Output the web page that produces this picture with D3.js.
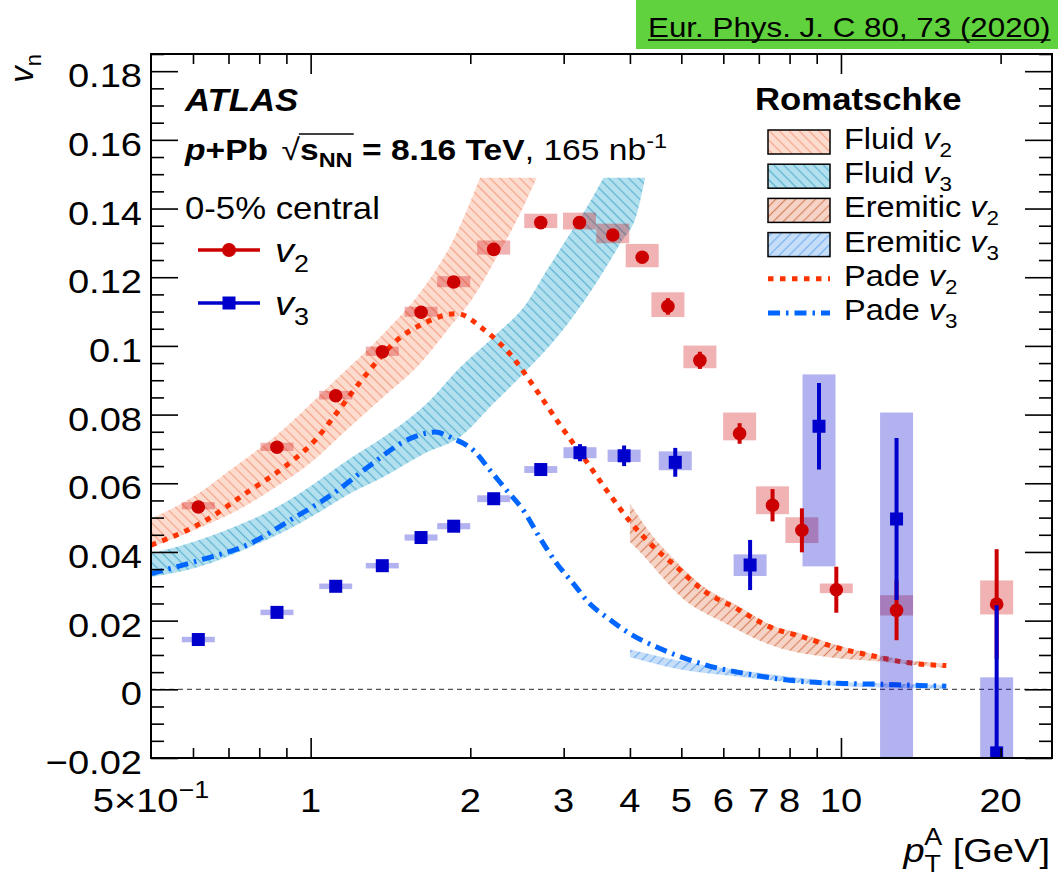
<!DOCTYPE html>
<html>
<head>
<meta charset="utf-8">
<script src="https://cdn.jsdelivr.net/npm/d3@7"></script>
<style>
  html, body { margin: 0; padding: 0; background: #fff; }
  svg { display: block; font-family: "Liberation Sans", Arial, Helvetica, sans-serif; }
</style>
</head>
<body>
<div id="chart"></div>
<script>
// ATLAS p+Pb 8.16 TeV, 0-5% central: v2 / v3 vs pT with Romatschke calculations

const v2Pt = [0.614, 0.864, 1.115, 1.365, 1.615, 1.861, 2.214, 2.716, 3.213, 3.713, 4.219, 4.717, 5.42, 6.44, 7.43, 8.44, 9.80, 12.73, 19.66];
const v2Val = [0.0531, 0.0705, 0.0855, 0.0983, 0.1098, 0.1186, 0.1281, 0.1359, 0.1359, 0.1323, 0.1258, 0.1115, 0.0958, 0.0745, 0.0536, 0.0463, 0.0290, 0.0230, 0.0248];
const v2Stat = [0.0004, 0.0004, 0.0005, 0.0005, 0.0005, 0.0005, 0.0006, 0.0007, 0.0008, 0.0009, 0.001, 0.0024, 0.0025, 0.003, 0.0047, 0.0064, 0.0067, 0.0087, 0.016];
const v2SysHi = [0.0014, 0.0013, 0.0014, 0.0015, 0.0016, 0.0017, 0.0026, 0.0026, 0.0029, 0.0033, 0.0039, 0.0041, 0.0043, 0.0061, 0.0055, 0.0038, 0.0018, 0.0044, 0.0069];
const v2SysLo = [0.0007, 0.0011, 0.0011, 0.0012, 0.0013, 0.0015, 0.0015, 0.0016, 0.002, 0.0024, 0.0029, 0.0031, 0.0023, 0.002, 0.0026, 0.0037, 0.001, 0.0015, 0.003];

const v3Pt = [0.614, 0.864, 1.115, 1.365, 1.615, 1.861, 2.214, 2.716, 3.22, 3.90, 4.87, 6.74, 9.09, 12.73, 19.66];
const v3Val = [0.0145, 0.0224, 0.0300, 0.0360, 0.0442, 0.0475, 0.0555, 0.0640, 0.0689, 0.0680, 0.0661, 0.0362, 0.0766, 0.0496, -0.0185];
const v3Stat = [0.0003, 0.0003, 0.0004, 0.0004, 0.0005, 0.0005, 0.0006, 0.0008, 0.0025, 0.003, 0.0042, 0.0073, 0.0126, 0.0236, 0.043];
const v3SysHi = [0.0008, 0.0008, 0.0008, 0.0008, 0.0009, 0.0009, 0.001, 0.001, 0.0016, 0.0018, 0.0032, 0.0031, 0.0151, 0.031, 0.022];
const v3SysLo = [0.0008, 0.0008, 0.0008, 0.0008, 0.0009, 0.0009, 0.001, 0.001, 0.0016, 0.0018, 0.0023, 0.0032, 0.0408, 0.08, 0.03];

// theory bands: upper and lower edges as [pT, v]
const fluidV2Upper = [[0.5, 0.0497], [0.614, 0.0570], [0.704, 0.0638], [0.864, 0.0741], [1.116, 0.0902], [1.363, 0.1031], [1.615, 0.1159], [1.864, 0.1313], [2.086, 0.149]];
const fluidV2Lower = [[0.5, 0.0414], [0.614, 0.0468], [0.768, 0.0541], [0.864, 0.0591], [1.0, 0.066], [1.186, 0.0764], [1.371, 0.0851], [1.608, 0.0948], [1.83, 0.1055], [2.027, 0.1142], [2.244, 0.1259], [2.446, 0.1365], [2.67, 0.149]];
const fluidV3Upper = [[0.5, 0.0395], [0.614, 0.0434], [0.768, 0.0492], [0.888, 0.0541], [1.026, 0.0604], [1.186, 0.0672], [1.371, 0.0734], [1.655, 0.0832], [1.913, 0.0937], [2.211, 0.1026], [2.556, 0.1125], [2.788, 0.1220], [3.085, 0.1327], [3.317, 0.1404], [3.566, 0.149]];
const fluidV3Lower = [[0.5, 0.0327], [0.614, 0.0356], [0.768, 0.0414], [0.888, 0.0458], [1.026, 0.0511], [1.186, 0.0570], [1.371, 0.0618], [1.655, 0.0690], [1.913, 0.0735], [2.211, 0.0832], [2.556, 0.0929], [2.954, 0.1036], [3.414, 0.1171], [3.834, 0.1298], [4.122, 0.1385], [4.274, 0.149]];
const eremV2Upper = [[4.0, 0.0541], [4.37, 0.0455], [4.9, 0.0371], [5.5, 0.0300], [6.36, 0.0245], [7.36, 0.0188], [8.5, 0.0160], [9.84, 0.0128], [11.37, 0.0104], [13.14, 0.0086], [15.6, 0.0075]];
const eremV2Lower = [[4.0, 0.0429], [4.24, 0.0390], [4.63, 0.0322], [4.97, 0.0272], [6.0, 0.0195], [7.56, 0.0123], [9.41, 0.0094], [11.7, 0.0082], [15.6, 0.0063]];
const eremV3Upper = [[4.0, 0.0116], [4.9, 0.0085], [6.5, 0.0055], [8.7, 0.0031], [10.1, 0.0021], [12.0, 0.0017], [15.6, 0.0013]];
const eremV3Lower = [[4.0, 0.0094], [4.9, 0.0060], [6.5, 0.0036], [8.7, 0.0016], [10.1, 0.0009], [12.0, 0.0005], [15.6, 0.0002]];

const padeV2 = [[0.5, 0.0420], [0.618, 0.0482], [0.768, 0.0579], [0.888, 0.0645], [1.026, 0.0730], [1.12, 0.0805], [1.276, 0.0919], [1.453, 0.1016], [1.631, 0.1065], [1.886, 0.1094], [2.12, 0.1048], [2.38, 0.0975], [2.668, 0.0870], [2.953, 0.0770], [3.317, 0.0662], [3.672, 0.0565], [4.06, 0.0477], [4.37, 0.0424], [4.9, 0.0356], [5.5, 0.0288], [6.36, 0.0235], [7.36, 0.0181], [8.5, 0.0152], [9.84, 0.0121], [11.37, 0.0099], [13.14, 0.0079], [15.8, 0.0069]];
const padeV3 = [[0.5, 0.0337], [0.618, 0.0376], [0.768, 0.0424], [0.914, 0.0492], [1.103, 0.0570], [1.294, 0.0652], [1.539, 0.0730], [1.716, 0.0749], [1.858, 0.0730], [2.027, 0.0696], [2.179, 0.0638], [2.344, 0.0579], [2.519, 0.0521], [2.708, 0.0440], [2.912, 0.0366], [3.129, 0.0308], [3.36, 0.0249], [3.615, 0.0210], [4.0, 0.0162], [4.49, 0.0123], [4.9, 0.0099], [5.67, 0.0067], [6.54, 0.0047], [7.56, 0.0031], [8.73, 0.0021], [10.1, 0.0017], [11.7, 0.0015], [13.5, 0.0012], [15.8, 0.0009]];

const yMajor = [-0.02, 0, 0.02, 0.04, 0.06, 0.08, 0.1, 0.12, 0.14, 0.16, 0.18];
const yTickLabels = ["\u22120.02", "0", "0.02", "0.04", "0.06", "0.08", "0.1", "0.12", "0.14", "0.16", "0.18"];
const xMajor = [1, 10];
const xMinor = [0.6, 0.7, 0.8, 0.9, 2, 3, 4, 5, 6, 7, 8, 9, 20];
const xLabelVals = [0.5, 1, 2, 3, 4, 5, 6, 7, 8, 10, 20];
const xLabelText = ["5\u00d710", "1", "2", "3", "4", "5", "6", "7", "8", "10", "20"];

const RED = "#cc0000";
const BLUE = "#0000cc";
const STRETCH = 1.12;

const width = 1058, height = 885;
const plot = {left: 151, right: 1052, top: 54, bottom: 758};

const x = d3.scaleLog().domain([0.5, 25]).range([plot.left, plot.right]);
const y = d3.scaleLinear().domain([-0.02, 0.185]).range([plot.bottom, plot.top]);

const svg = d3.select("#chart").append("svg")
  .attr("width", width)
  .attr("height", height)
  .attr("viewBox", [0, 0, width, height]);

const defs = svg.append("defs");
defs.append("clipPath").attr("id", "plotClip")
  .append("rect")
  .attr("x", plot.left).attr("y", plot.top)
  .attr("width", plot.right - plot.left).attr("height", plot.bottom - plot.top);

function hatch(id, fill, stroke, angle) {
  const p = defs.append("pattern")
    .attr("id", id)
    .attr("patternUnits", "userSpaceOnUse")
    .attr("width", 7).attr("height", 7)
    .attr("patternTransform", `rotate(${angle})`);
  p.append("rect").attr("width", 7).attr("height", 7).attr("fill", fill);
  p.append("line").attr("x1", 3.5).attr("y1", 0).attr("x2", 3.5).attr("y2", 7)
    .attr("stroke", stroke).attr("stroke-width", 1.2);
}
hatch("hFluidV2", "#fddcd0", "#f4a387", -45);
hatch("hFluidV3", "#b3e0ee", "#5cb3d2", -45);
hatch("hEremV2", "#f5d4c7", "#d9825f", 45);
hatch("hEremV3", "#c6def8", "#74b0f2", 45);

// text drawn slightly wide, like the ROOT output
function textAt(parent, tx, ty, size, anchor = "start") {
  return parent.append("g")
    .attr("transform", `translate(${tx},${ty}) scale(${STRETCH},1)`)
    .append("text")
    .attr("font-size", size)
    .attr("text-anchor", anchor)
    .attr("fill", "#000");
}

// ---------- data layer ----------
const data = svg.append("g").attr("clip-path", "url(#plotClip)");

const edge = d3.line().x((d) => x(d[0])).y((d) => y(d[1])).curve(d3.curveMonotoneX);
function bandPath(upper, lower) {
  return edge(upper) + "L" + edge(lower.slice().reverse()).slice(1) + "Z";
}

data.append("path").attr("d", bandPath(fluidV2Upper, fluidV2Lower)).attr("fill", "url(#hFluidV2)");
data.append("path").attr("d", bandPath(fluidV3Upper, fluidV3Lower)).attr("fill", "url(#hFluidV3)");
data.append("path").attr("d", bandPath(eremV2Upper, eremV2Lower)).attr("fill", "url(#hEremV2)");
data.append("path").attr("d", bandPath(eremV3Upper, eremV3Lower)).attr("fill", "url(#hEremV3)");

data.append("line")
  .attr("x1", plot.left).attr("x2", plot.right)
  .attr("y1", y(0)).attr("y2", y(0))
  .attr("stroke", "#555").attr("stroke-width", 1.2).attr("stroke-dasharray", "5,4");

data.append("path").datum(padeV2)
  .attr("d", edge)
  .attr("fill", "none").attr("stroke", "#ff3300").attr("stroke-width", 5)
  .attr("stroke-dasharray", "5.5,6.5");
data.append("path").datum(padeV3)
  .attr("d", edge)
  .attr("fill", "none").attr("stroke", "#0066ff").attr("stroke-width", 5)
  .attr("stroke-dasharray", "12,6,2.5,6");

const BOX_HALF = 16.5;
function points(pt, val, stat, sysHi, sysLo) {
  return pt.map((p, i) => ({p, v: val[i], stat: stat[i], hi: sysHi[i], lo: sysLo[i]}));
}
const v2Data = points(v2Pt, v2Val, v2Stat, v2SysHi, v2SysLo);
const v3Data = points(v3Pt, v3Val, v3Stat, v3SysHi, v3SysLo);

function sysBoxes(series, color) {
  data.append("g").selectAll("rect").data(series).join("rect")
    .attr("x", (d) => x(d.p) - BOX_HALF)
    .attr("width", BOX_HALF * 2)
    .attr("y", (d) => y(d.v + d.hi))
    .attr("height", (d) => y(d.v - d.lo) - y(d.v + d.hi))
    .attr("fill", color).attr("fill-opacity", 0.3);
}
sysBoxes(v2Data, RED);
sysBoxes(v3Data, BLUE);

function statBars(series, color) {
  data.append("g").selectAll("line").data(series).join("line")
    .attr("x1", (d) => x(d.p)).attr("x2", (d) => x(d.p))
    .attr("y1", (d) => y(d.v - d.stat)).attr("y2", (d) => y(d.v + d.stat))
    .attr("stroke", color).attr("stroke-width", 4);
}
statBars(v2Data, RED);
data.append("g").selectAll("circle").data(v2Data).join("circle")
  .attr("cx", (d) => x(d.p)).attr("cy", (d) => y(d.v)).attr("r", 6.8).attr("fill", RED);
statBars(v3Data, BLUE);
data.append("g").selectAll("rect").data(v3Data).join("rect")
  .attr("x", (d) => x(d.p) - 6.5).attr("y", (d) => y(d.v) - 6.5)
  .attr("width", 13).attr("height", 13).attr("fill", BLUE);

// ---------- axes ----------
function clean(sel) {
  sel.select(".domain").remove();
  sel.selectAll(".tick text").remove();
  sel.selectAll(".tick line").attr("stroke", "#000").attr("stroke-width", 1.6);
}
const yMinor = d3.range(-0.02, 0.1851, 0.005)
  .filter((v) => Math.abs(Math.round(v / 0.02) * 0.02 - v) > 1e-9);

svg.append("g").attr("transform", `translate(${plot.left},0)`)
  .call(d3.axisLeft(y).tickValues(yMajor).tickSize(-27).tickFormat("")).call(clean);
svg.append("g").attr("transform", `translate(${plot.left},0)`)
  .call(d3.axisLeft(y).tickValues(yMinor).tickSize(-13).tickFormat("")).call(clean);
svg.append("g").attr("transform", `translate(${plot.right},0)`)
  .call(d3.axisRight(y).tickValues(yMajor).tickSize(-27).tickFormat("")).call(clean);
svg.append("g").attr("transform", `translate(${plot.right},0)`)
  .call(d3.axisRight(y).tickValues(yMinor).tickSize(-13).tickFormat("")).call(clean);

svg.append("g").attr("transform", `translate(0,${plot.bottom})`)
  .call(d3.axisBottom(x).tickValues(xMajor).tickSize(-20).tickFormat("")).call(clean);
svg.append("g").attr("transform", `translate(0,${plot.bottom})`)
  .call(d3.axisBottom(x).tickValues(xMinor).tickSize(-10).tickFormat("")).call(clean);
svg.append("g").attr("transform", `translate(0,${plot.top})`)
  .call(d3.axisTop(x).tickValues(xMajor).tickSize(-20).tickFormat("")).call(clean);
svg.append("g").attr("transform", `translate(0,${plot.top})`)
  .call(d3.axisTop(x).tickValues(xMinor).tickSize(-10).tickFormat("")).call(clean);

svg.append("rect")
  .attr("x", plot.left).attr("y", plot.top)
  .attr("width", plot.right - plot.left).attr("height", plot.bottom - plot.top)
  .attr("fill", "none").attr("stroke", "#000").attr("stroke-width", 2);

yMajor.forEach((v, i) => {
  textAt(svg, plot.left - 9, y(v) + 16, 34, "end").text(yTickLabels[i]);
});
xLabelVals.forEach((v, i) => {
  const t = textAt(svg, x(v), 812, 34, "middle").text(xLabelText[i]);
  if (v === 0.5) t.append("tspan").attr("font-size", 24).attr("dy", -14).text("\u22121");
});

// axis titles
const yTitle = svg.append("g").attr("transform", `translate(33,54) rotate(-90)`)
  .append("text").attr("font-size", 33).attr("text-anchor", "end");
yTitle.append("tspan").attr("font-style", "italic").text("v");
yTitle.append("tspan").attr("font-size", 22).attr("dy", 8).text("n");

const xTitle = textAt(svg, 1050, 862, 34, "end");
xTitle.append("tspan").attr("font-style", "italic").text("p");
xTitle.append("tspan").attr("font-size", 24).attr("dy", 10).text("T");
xTitle.append("tspan").attr("font-size", 24).attr("dx", -15).attr("dy", -27).text("A");
xTitle.append("tspan").attr("dy", 17).text(" [GeV]");

// ---------- labels, top left ----------
textAt(svg, 185, 111, 31).attr("font-weight", "bold").attr("font-style", "italic").text("ATLAS");

const sys = textAt(svg, 185, 160, 30);
sys.append("tspan").attr("font-weight", "bold").attr("font-style", "italic").text("p");
sys.append("tspan").attr("font-weight", "bold").text("+Pb");
sys.append("tspan").attr("dx", 12).text("\u221a");
sys.append("tspan").attr("font-weight", "bold").text("s");
sys.append("tspan").attr("font-weight", "bold").attr("font-size", 21).attr("dy", 7).text("NN");
sys.append("tspan").attr("font-weight", "bold").attr("dy", -7).text(" = 8.16 TeV");
sys.append("tspan").text(", 165 nb");
sys.append("tspan").attr("font-size", 21).attr("dy", -12).text("-1");
{
  const node = sys.node();
  const root = node.getExtentOfChar(4);
  const lastN = node.getExtentOfChar(7);
  d3.select(node.parentNode).append("line")
    .attr("x1", root.x + root.width - 1).attr("x2", lastN.x + lastN.width + 1)
    .attr("y1", -26).attr("y2", -26)
    .attr("stroke", "#000").attr("stroke-width", 1.6);
}

textAt(svg, 185, 219, 31).text("0-5% central");

const measLegend = [
  {y: 250, color: RED, marker: "circle", sub: "2"},
  {y: 303, color: BLUE, marker: "square", sub: "3"}
];
measLegend.forEach((e) => {
  svg.append("line").attr("x1", 198).attr("x2", 260).attr("y1", e.y).attr("y2", e.y)
    .attr("stroke", e.color).attr("stroke-width", 3.5);
  if (e.marker === "circle") {
    svg.append("circle").attr("cx", 229).attr("cy", e.y).attr("r", 7).attr("fill", e.color);
  } else {
    svg.append("rect").attr("x", 222.5).attr("y", e.y - 6.5).attr("width", 13).attr("height", 13).attr("fill", e.color);
  }
  const t = textAt(svg, 275, e.y + 12, 34);
  t.append("tspan").attr("font-style", "italic").text("v");
  t.append("tspan").attr("font-size", 24).attr("dy", 10).text(e.sub);
});

// ---------- Romatschke legend ----------
textAt(svg, 755, 110, 31).attr("font-weight", "bold").text("Romatschke");
const theoryLegend = [
  {kind: "band", fill: "url(#hFluidV2)", name: "Fluid ", sub: "2"},
  {kind: "band", fill: "url(#hFluidV3)", name: "Fluid ", sub: "3"},
  {kind: "band", fill: "url(#hEremV2)", name: "Eremitic ", sub: "2"},
  {kind: "band", fill: "url(#hEremV3)", name: "Eremitic ", sub: "3"},
  {kind: "line", stroke: "#ff3300", dash: "5.5,6.5", name: "Pade ", sub: "2"},
  {kind: "line", stroke: "#0066ff", dash: "12,6,2.5,6", name: "Pade ", sub: "3"}
];
theoryLegend.forEach((e, i) => {
  const yc = 142 + i * 34.2;
  if (e.kind === "band") {
    svg.append("rect").attr("x", 768).attr("y", yc - 12).attr("width", 62).attr("height", 24)
      .attr("fill", e.fill).attr("stroke", "#000").attr("stroke-width", 1.5);
  } else {
    svg.append("line").attr("x1", 768).attr("x2", 830).attr("y1", yc).attr("y2", yc)
      .attr("stroke", e.stroke).attr("stroke-width", 5).attr("stroke-dasharray", e.dash);
  }
  const t = textAt(svg, 844, yc + 7, 29);
  t.append("tspan").text(e.name);
  t.append("tspan").attr("font-style", "italic").text("v");
  t.append("tspan").attr("font-size", 20).attr("dy", 8).text(e.sub);
});

// ---------- journal banner ----------
svg.append("rect").attr("x", 636).attr("y", 0).attr("width", 422).attr("height", 49).attr("fill", "#60d23d");
const ref = textAt(svg, 648, 37, 28).text("Eur. Phys. J. C 80, 73 (2020)");
d3.select(ref.node().parentNode).append("line")
  .attr("x1", 0).attr("x2", ref.node().getComputedTextLength())
  .attr("y1", 3).attr("y2", 3)
  .attr("stroke", "#000").attr("stroke-width", 1.6);
</script>
</body>
</html>
